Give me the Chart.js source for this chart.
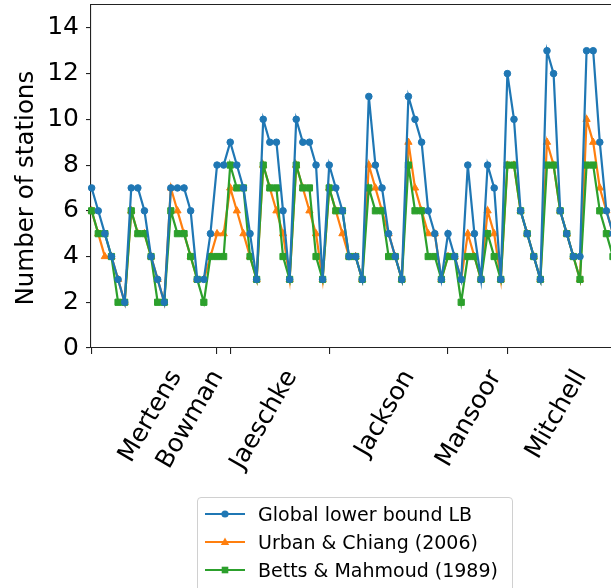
<!DOCTYPE html>
<html>
<head>
<meta charset="utf-8">
<script src="https://cdn.jsdelivr.net/npm/chart.js@4.4.0/dist/chart.umd.min.js"></script>
<style>
  html, body { margin: 0; padding: 0; background: #fff; }
  #wrap { position: relative; width: 611px; height: 588px; overflow: hidden; }
  #legend {
    position: absolute; left: 197px; top: 497px; width: 316px; height: 100px;
    border: 1px solid #d0d0d0; border-radius: 4px; background: rgba(255,255,255,0.85);
    font-family: "DejaVu Sans", sans-serif; font-size: 19px; color: #000;
    box-sizing: border-box; padding-top: 2px;
  }
  #legend .row { height: 28px; display: flex; align-items: center; }
  #legend svg { margin-left: 7px; margin-right: 13px; flex: none; }
</style>
</head>
<body>
<div id="wrap">
  <canvas id="chart" width="611" height="588"></canvas>
  <div id="legend"></div>
</div>
<script>
// values, one point per index
var lbValues = [7, 6, 5, 4, 3, 2, 7, 7, 6, 4, 3, 2, 7, 7, 7, 6, 3, 3, 5, 8,
                8, 9, 8, 7, 5, 3, 10, 9, 9, 6, 3, 10, 9, 9, 8, 3, 8, 7, 6, 4,
                4, 3, 11, 8, 7, 5, 4, 3, 11, 10, 9, 6, 5, 3, 5, 4, 3, 8, 5, 3,
                8, 7, 3, 12, 10, 6, 5, 4, 3, 13, 12, 6, 5, 4, 4, 13, 13, 9, 6, 5];
var urbanValues = [6, 5, 4, 4, 3, 2, 6, 5, 5, 4, 3, 2, 7, 6, 5, 4, 3, 3, 4, 5,
                   5, 7, 6, 5, 4, 3, 8, 7, 6, 5, 3, 8, 7, 6, 5, 3, 7, 6, 5, 4,
                   4, 3, 8, 7, 6, 5, 4, 3, 9, 7, 6, 5, 5, 3, 4, 4, 3, 5, 4, 3,
                   6, 5, 3, 8, 8, 6, 5, 4, 3, 9, 8, 6, 5, 4, 3, 10, 9, 7, 6, 5];
var bettsValues = [6, 5, 5, 4, 2, 2, 6, 5, 5, 4, 2, 2, 6, 5, 5, 4, 3, 2, 4, 4,
                   4, 8, 7, 7, 4, 3, 8, 7, 7, 4, 3, 8, 7, 7, 4, 3, 7, 6, 6, 4,
                   4, 3, 7, 6, 6, 4, 4, 3, 8, 6, 6, 4, 4, 3, 4, 4, 2, 4, 4, 3,
                   5, 4, 3, 8, 8, 6, 5, 4, 3, 8, 8, 6, 5, 4, 3, 8, 8, 6, 5, 4];

var xTickPositions = [0, 19, 21, 36, 54, 63];
var xLabels = ['Mertens', 'Bowman', 'Jaeschke', 'Jackson', 'Mansoor', 'Mitchell'];
var xLabelPositions = [12.8, 19.1, 30.3, 48.1, 61.25, 74.15];
var yTicks = [0, 2, 4, 6, 8, 10, 12, 14];

var X_MIN = -0.1, X_MAX = 78.7;
var FONT = '"DejaVu Sans", sans-serif';

function toPoints(values) {
    return values.map(function (v, i) { return {x: i, y: v}; });
}

var series = [
    {label: 'Global lower bound LB', values: lbValues, color: '#1f77b4', style: 'circle', radius: 3.3, order: 1},
    {label: 'Urban & Chiang (2006)', values: urbanValues, color: '#ff7f0e', style: 'triangle', radius: 4.2, order: 3},
    {label: 'Betts & Mahmoud (1989)', values: bettsValues, color: '#2ca02c', style: 'rect', radius: 4.4, order: 2}
];

var datasets = series.map(function (s) {
    return {
        label: s.label,
        data: toPoints(s.values),
        borderColor: s.color,
        backgroundColor: s.color,
        borderWidth: 2.2,
        pointStyle: s.style,
        pointRadius: s.radius,
        pointBorderWidth: 1,
        pointBorderColor: s.color,
        pointBackgroundColor: s.color,
        tension: 0,
        order: s.order,
        clip: {left: 8, top: 8, right: 0, bottom: 8}
    };
});

function noPad(scale) {
    scale.paddingLeft = 0; scale.paddingRight = 0;
    scale.paddingTop = 0; scale.paddingBottom = 0;
}

var ctx = document.getElementById('chart');
var chart = new Chart(ctx, {
    type: 'line',
    data: {datasets: datasets},
    options: {
        responsive: false,
        animation: false,
        devicePixelRatio: 1,
        layout: {autoPadding: false, padding: {top: 5, left: 0, right: 0, bottom: 0}},
        plugins: {legend: {display: false}, tooltip: {enabled: false}},
        scales: {
            x: {
                type: 'linear', position: 'bottom', min: X_MIN, max: X_MAX, weight: 0,
                afterBuildTicks: function (s) { s.ticks = xTickPositions.map(function (v) { return {value: v}; }); },
                afterFit: function (s) { s.height = 12; noPad(s); },
                ticks: {display: false},
                grid: {drawOnChartArea: false, drawTicks: true, tickLength: 6, color: '#222', lineWidth: 1.1},
                border: {display: true, color: '#222', width: 1.1}
            },
            xl: {
                type: 'linear', position: 'bottom', min: X_MIN, max: X_MAX, weight: 1,
                afterBuildTicks: function (s) { s.ticks = xLabelPositions.map(function (v) { return {value: v}; }); },
                afterFit: function (s) { s.height = 228; noPad(s); },
                ticks: {
                    autoSkip: false, minRotation: 60, maxRotation: 60, padding: 5,
                    color: '#000', font: {family: FONT, size: 25},
                    callback: function (value, index) { return xLabels[index]; }
                },
                grid: {display: false, drawTicks: false},
                border: {display: false}
            },
            xt: {
                type: 'linear', position: 'top', min: X_MIN, max: X_MAX,
                afterFit: function (s) { s.height = 0; noPad(s); },
                ticks: {display: false},
                grid: {drawOnChartArea: false, drawTicks: false},
                border: {display: true, color: '#222', width: 1.1}
            },
            y: {
                type: 'linear', position: 'left', min: 0, max: 15,
                afterBuildTicks: function (s) { s.ticks = yTicks.map(function (v) { return {value: v}; }); },
                afterFit: function (s) { s.width = 91; noPad(s); },
                ticks: {color: '#000', padding: 7, font: {family: FONT, size: 25}},
                grid: {drawOnChartArea: false, drawTicks: true, tickLength: 5, color: '#222', lineWidth: 1.1},
                border: {display: true, color: '#222', width: 1.1},
                title: {
                    // trailing spaces nudge the centred title down a little, as in the reference
                    display: true, text: 'Number of stations   ', color: '#000',
                    font: {family: FONT, size: 24.5}, padding: {top: 12, bottom: 0}
                }
            }
        }
    }
});

// legend built from the chart's datasets (kept in the legend order of the reference)
function markerSvg(ds) {
    var c = ds.borderColor, m;
    if (ds.pointStyle === 'circle') {
        m = '<circle cx="20" cy="8" r="3.6" fill="' + c + '"/>';
    } else if (ds.pointStyle === 'triangle') {
        m = '<polygon points="20,3.5 24.2,11 15.8,11" fill="' + c + '"/>';
    } else {
        m = '<rect x="16.7" y="4.7" width="6.6" height="6.6" fill="' + c + '"/>';
    }
    return '<svg width="40" height="16"><line x1="0" y1="8" x2="40" y2="8" stroke="' + c +
        '" stroke-width="2.2"/>' + m + '</svg>';
}
var legendEl = document.getElementById('legend');
chart.data.datasets.forEach(function (ds) {
    var row = document.createElement('div');
    row.className = 'row';
    row.innerHTML = markerSvg(ds) + '<span>' + ds.label.replace('&', '&amp;') + '</span>';
    legendEl.appendChild(row);
});
</script>
</body>
</html>
